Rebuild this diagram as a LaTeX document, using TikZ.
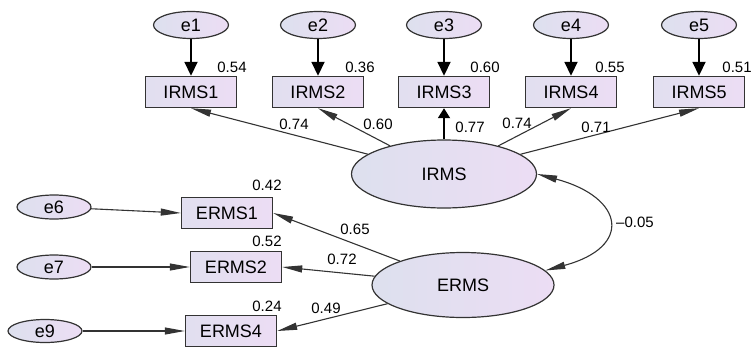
\documentclass[tikz,border=0pt]{standalone}
\usepackage{fontspec}
\setmainfont{Liberation Sans}
\usetikzlibrary{arrows.meta,shapes.geometric}
\definecolor{lblue}{HTML}{DDE0EE}
\definecolor{lpurp}{HTML}{ECDDF4}
\definecolor{linegray}{HTML}{333333}
\tikzset{err/.style = {ellipse, draw=linegray, line width=1.2pt, left color=lblue, right color=lpurp,
    inner sep=0pt, minimum width=75pt, minimum height=27pt, font=\fontsize{18}{20}\selectfont},
  obs/.style = {rectangle, draw=linegray, line width=1.4pt, left color=lblue!70!lpurp, right color=lpurp,
    inner sep=0pt, minimum width=91pt, minimum height=31pt, font=\fontsize{18}{20}\selectfont},
  lat/.style = {ellipse, draw=linegray, line width=1.2pt, left color=lblue, right color=lpurp,
    inner sep=0pt, minimum width=185pt, minimum height=68pt, font=\fontsize{18}{20}\selectfont},
  coef/.style = {inner sep=0pt, font=\fontsize{15}{17}\selectfont},
  load/.style = {-{Triangle[length=20pt,width=7pt]}, line width=1.1pt, draw=linegray},
  res/.style = {-{Triangle[length=14pt,width=13pt]}, line width=1.8pt, draw=black},
  cov/.style = {{Triangle[length=20pt,width=7pt]}-{Triangle[length=20pt,width=7pt]}, line width=1.1pt, draw=linegray}}

\begin{document}
\begin{tikzpicture}[x=1pt, y=1pt]
  \useasboundingbox (0,0) rectangle (754,-348);
  % errors of the IRMS items
  \node[err] (e1) at (191,-25) {e1};
  \node[err] (e2) at (318,-25) {e2};
  \node[err] (e3) at (444,-25) {e3};
  \node[err] (e4) at (571,-25) {e4};
  \node[err] (e5) at (699,-25) {e5};
  \node[obs] (IRMS1) at (191,-92) {IRMS1};
  \node[obs] (IRMS2) at (318,-92) {IRMS2};
  \node[obs] (IRMS3) at (444,-92) {IRMS3};
  \node[obs] (IRMS4) at (571,-92) {IRMS4};
  \node[obs] (IRMS5) at (699,-92) {IRMS5};
  \node[lat] (IRMS) at (444,-174) {IRMS};
  % ERMS part
  \node[lat, minimum width=182pt, minimum height=65pt] (ERMS) at (463,-285) {ERMS};
  \node[err, minimum width=74pt, minimum height=24pt] (e6) at (54,-207) {e6};
  \node[err, minimum width=74pt, minimum height=24pt] (e7) at (54,-267) {e7};
  \node[err, minimum width=74pt, minimum height=23pt] (e9) at (45,-331) {e9};
  \node[obs] (ERMS1) at (227,-213) {ERMS1};
  \node[obs] (ERMS2) at (236,-267) {ERMS2};
  \node[obs] (ERMS4) at (231,-331) {ERMS4};

  \foreach \i in {1,...,5}
    \draw[res] (e\i) -- (IRMS\i);
  \draw[load] (IRMS) -- (IRMS1.south);
  \draw[load] (IRMS) -- (IRMS2.south);
  \draw[res, -{Triangle[length=10pt,width=12pt]}] (IRMS) -- (IRMS3.south);
  \draw[load] (IRMS) -- (IRMS4.south);
  \draw[load] (IRMS) -- (IRMS5.south);
  \draw[load] (e6) -- (ERMS1.west);
  \draw[load] (e7) -- (ERMS2.west);
  \draw[load] (e9) -- (ERMS4.west);
  \draw[load] (ERMS) -- (ERMS1.east);
  \draw[load] (ERMS) -- (ERMS2.east);
  \draw[load] (ERMS) -- (ERMS4.east);
  \draw[cov] (IRMS.east) to[out=-15, in=15, looseness=2.4] (ERMS.10);

  % coefficients
  \node[coef] (r1) at (232,-67) {0.54};
  \node[coef] (r2) at (360,-67) {0.36};
  \node[coef] (r3) at (485,-67) {0.60};
  \node[coef] (r4) at (610,-67) {0.55};
  \node[coef] (r5) at (737,-67) {0.51};
  \node[coef] (l1) at (294,-124) {0.74};
  \node[coef] (l2) at (378,-124) {0.60};
  \node[coef] (l3) at (470,-127) {0.77};
  \node[coef] (l4) at (517,-123) {0.74};
  \node[coef] (l5) at (596,-127) {0.71};
  \node[coef] (r6) at (267,-185) {0.42};
  \node[coef] (r7) at (267,-241) {0.52};
  \node[coef] (r9) at (267,-306) {0.24};
  \node[coef] (l6) at (355,-229) {0.65};
  \node[coef] (l7) at (342,-259) {0.72};
  \node[coef] (l9) at (326,-308) {0.49};
  \node[coef, anchor=west] (rho) at (616,-222) {--0.05};
\end{tikzpicture}
\end{document}
